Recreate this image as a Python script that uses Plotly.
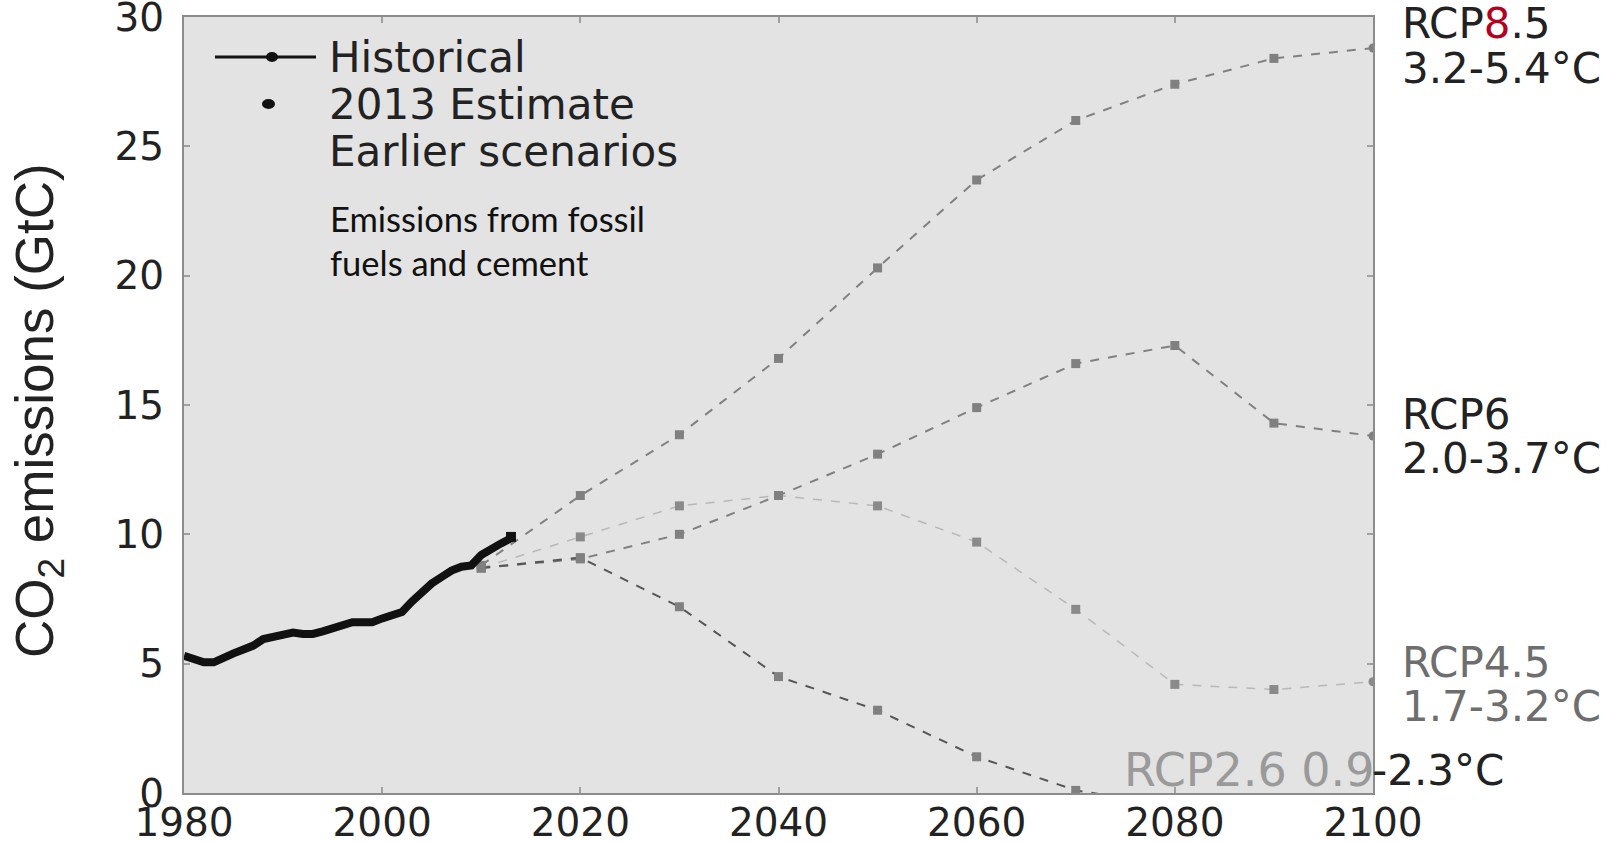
import plotly.graph_objects as go

# ---------------- data ----------------
hist_years = list(range(1980, 2014))
hist_values = [5.3, 5.15, 5.05, 5.05, 5.25, 5.4, 5.55, 5.7, 5.95, 6.05,
               6.1, 6.2, 6.15, 6.15, 6.25, 6.35, 6.5, 6.6, 6.6, 6.6,
               6.75, 6.9, 7.0, 7.4, 7.8, 8.1, 8.35, 8.6, 8.75, 8.8,
               9.2, 9.45, 9.65, 9.85]

estimate_year = [2013]
estimate_value = [9.9]

scen_years = [2010, 2020, 2030, 2040, 2050, 2060, 2070, 2080, 2090, 2100]
rcp85 = [8.8, 11.5, 13.85, 16.8, 20.3, 23.7, 26.0, 27.4, 28.4, 28.8]
rcp6 = [8.7, 9.05, 10.0, 11.5, 13.1, 14.9, 16.6, 17.3, 14.3, 13.8]
rcp45 = [8.7, 9.9, 11.1, 11.5, 11.1, 9.7, 7.1, 4.2, 4.0, 4.3]
rcp26 = [8.7, 9.1, 7.2, 4.5, 3.2, 1.4, 0.1, -0.5, -0.9, -0.9]

x_ticks = [1980, 2000, 2020, 2040, 2060, 2080, 2100]
y_ticks = [0, 5, 10, 15, 20, 25, 30]

# ---------------- layout helpers ----------------
W, H = 1608, 843
L, R, T, B = 184, 1373, 17, 793


def px(x):
    return (x - L) / (R - L)


def py(y):
    return (B - y) / (B - T)


GRAY = "#808080"
end_symbols = ["square"] * (len(scen_years) - 1) + ["circle"]

fig = go.Figure()

fig.add_trace(go.Scatter(x=scen_years, y=rcp45, mode="lines+markers",
                         line=dict(color="#b8b8b8", width=1.5, dash="dash"),
                         marker=dict(symbol=end_symbols, size=9, color="#8a8a8a"),
                         showlegend=False))
fig.add_trace(go.Scatter(x=scen_years, y=rcp6, mode="lines+markers",
                         line=dict(color=GRAY, width=2, dash="dash"),
                         marker=dict(symbol=end_symbols, size=9, color=GRAY),
                         showlegend=False))
fig.add_trace(go.Scatter(x=scen_years, y=rcp85, mode="lines+markers",
                         line=dict(color=GRAY, width=2, dash="dash"),
                         marker=dict(symbol=end_symbols, size=9, color=GRAY),
                         showlegend=False))
fig.add_trace(go.Scatter(x=scen_years, y=rcp26, mode="lines+markers",
                         line=dict(color="#555555", width=2, dash="dash"),
                         marker=dict(symbol="square", size=9, color=GRAY),
                         showlegend=False))
fig.add_trace(go.Scatter(x=hist_years, y=hist_values, mode="lines",
                         line=dict(color="#111111", width=8),
                         cliponaxis=False,
                         showlegend=False))
fig.add_trace(go.Scatter(x=estimate_year, y=estimate_value, mode="markers",
                         marker=dict(symbol="square", size=10, color="#111111"),
                         showlegend=False))

axis_common = dict(showgrid=False, zeroline=False, showline=True,
                   linecolor="#8c8c8c", linewidth=2, mirror="ticks",
                   ticks="inside", ticklen=6, tickcolor="#a0a0a0", tickwidth=2,
                   automargin=False, ticklabeloverflow="allow",
                   tickfont=dict(family="DejaVu Sans", size=39, color="#222222"))

fig.update_xaxes(range=[1980, 2100], tickvals=x_ticks,
                 ticktext=[str(v) for v in x_ticks], ticklabelstandoff=-6,
                 **axis_common)
fig.update_yaxes(range=[0, 30], tickvals=y_ticks,
                 ticktext=[str(v) for v in y_ticks], ticklabelstandoff=10,
                 **axis_common)

annotations = []


def text(x, y, s, size, color="#222222", family="DejaVu Sans", xanchor="left"):
    annotations.append(dict(x=px(x), y=py(y), xref="paper", yref="paper",
                            text=s, showarrow=False, xanchor=xanchor,
                            yanchor="middle",
                            font=dict(family=family, size=size, color=color)))


# legend
text(327, 57, "Historical", 42)
text(327, 104, "2013 Estimate", 42)
text(327, 151, "Earlier scenarios", 42)
text(328, 219, "Emissions from fossil", 34.5, "#111111", "Lato")
text(328, 262, "fuels and cement", 34.5, "#111111", "Lato")

# right-hand scenario labels
text(1400, 24, "RCP<span style='color:#b5001f'>8</span>.5", 42)
text(1400, 68, "3.2-5.4°C", 42)
text(1400, 415, "RCP6", 42)
text(1400, 458, "2.0-3.7°C", 42)
text(1400, 662, "RCP4.5", 42, "#6e6e6e")
text(1400, 706, "1.7-3.2°C", 42, "#6e6e6e")
text(1370, 770, "-2.3°C", 42)
text(1376, 770, "RCP2.6 0.9", 46, "#9a9a9a", xanchor="right")

# y-axis title
annotations.append(dict(x=px(38), y=py(411), xref="paper", yref="paper",
                        text="CO<sub>2</sub> emissions (GtC)", showarrow=False,
                        textangle=-90, xanchor="center", yanchor="middle",
                        font=dict(family="Liberation Sans", size=53,
                                  color="#222222")))

shapes = [
    dict(type="line", xref="paper", yref="paper", x0=px(215), x1=px(316),
         y0=py(57), y1=py(57), line=dict(color="#111111", width=3)),
    dict(type="circle", xref="paper", yref="paper", x0=px(266), x1=px(278),
         y0=py(52), y1=py(62), fillcolor="#111111", line=dict(width=0)),
    dict(type="circle", xref="paper", yref="paper", x0=px(262), x1=px(275),
         y0=py(99), y1=py(109), fillcolor="#111111", line=dict(width=0)),
]

fig.update_layout(width=W, height=H,
                  margin=dict(l=L, r=W - R, t=T, b=H - B, autoexpand=False),
                  paper_bgcolor="white", plot_bgcolor="#e3e3e3",
                  annotations=annotations, shapes=shapes, showlegend=False)

fig.write_html("out.html",
               config={"displayModeBar": False},
               post_script="document.body.style.margin='0';"
                           "document.body.style.overflow='hidden';")
